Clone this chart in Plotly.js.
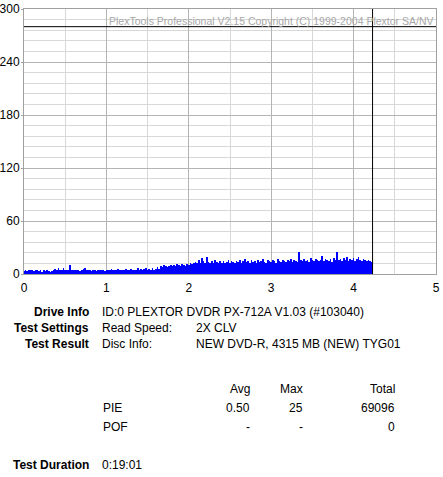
<!DOCTYPE html>
<html>
<head>
<meta charset="utf-8">
<script src="https://cdn.plot.ly/plotly-3.0.1.min.js"></script>
<style>
  html, body { margin: 0; padding: 0; background: #fff; }
  #chart { width: 443px; height: 477px; }
</style>
</head>
<body>
<div id="chart"></div>
<script>
// PIE errors per sample across the disc (position in GB)
const stepGB = 0.02;
const pieValues = [
  3,4,3,5,4,4,3,5,4,3,
  4,2,4,3,4,3,2,3,4,6,
  4,7,5,4,7,5,4,5,10,5,
  4,4,5,4,3,5,6,7,4,5,
  4,3,5,4,3,4,4,5,4,3,
  4,5,4,6,4,5,4,6,5,4,
  5,4,6,5,4,6,5,4,5,7,
  5,6,4,6,7,5,6,5,7,5,
  6,8,6,9,8,10,9,8,9,10,
  9,10,9,11,10,9,11,10,9,11,
  10,13,11,12,14,12,16,13,18,15,
  13,19,14,12,15,13,16,14,12,15,
  13,15,12,14,16,13,15,14,13,15,
  14,16,13,15,17,14,15,13,16,14,
  15,13,16,14,15,17,14,13,16,15,
  14,16,15,13,17,15,14,16,15,14,
  16,15,17,14,16,15,14,25,16,15,
  17,15,16,14,18,16,15,17,16,15,
  16,20,15,17,16,15,17,14,18,16,
  25,16,17,15,18,16,19,15,17,16,
  18,15,17,19,16,15,17,16,15,16,15,14
];
const positionsGB = pieValues.map((_, i) => +(i * stepGB).toFixed(2));

// Marker lines: end of recorded area and the upper limit line
const discEndGB = 4.23;
const limitLine = 280;

// Axis ticks
const xTicks = [0, 1, 2, 3, 4, 5];
const yTicks = [0, 60, 120, 180, 240, 300];

// Report text
const infoLabels = ["Drive Info", "Test Settings", "Test Result"];
const infoCol1 = ["ID:0 PLEXTOR DVDR PX-712A V1.03 (#103040)", "Read Speed:", "Disc Info:"];
const infoCol2 = ["", "2X CLV", "NEW DVD-R, 4315 MB (NEW) TYG01"];
const statHeaders = ["Avg", "Max", "Total"];
const statRows = ["PIE", "POF"];
const statValues = [["0.50", "25", "69096"], ["-", "-", "0"]];
const durationLabel = "Test Duration";
const durationValue = "0:19:01";
const watermark = "PlexTools Professional V2.15 Copyright (C) 1999-2004 Plextor SA/NV";

// page layout in pixels
const W = 443, H = 477;
const M = { l: 24, r: 7, t: 9, b: 203 };
const plotW = W - M.l - M.r, plotH = H - M.t - M.b;
const px = x => (x - M.l) / plotW;
const py = y => (H - M.b - y) / plotH;

const FONT = "Liberation Sans, Arial, sans-serif";
const annotations = [];
function label(text, x, y, anchor, bold, color, size) {
  annotations.push({
    text: bold ? "<b>" + text + "</b>" : text,
    xref: "paper", yref: "paper",
    x: px(x), y: py(y),
    xanchor: anchor, yanchor: "middle",
    showarrow: false, borderpad: 0, borderwidth: 0,
    font: { family: FONT, size: size || 12, color: color || "#000" }
  });
}

label(watermark, 434, 21, "right", false, "#a8a8a8", 10.5);

const infoY = [312, 328, 344];
infoLabels.forEach((t, i) => {
  label(t, 89, infoY[i], "right", true);
  label(infoCol1[i], 102, infoY[i], "left");
  if (infoCol2[i]) label(infoCol2[i], 196, infoY[i], "left");
});

const statX = [250, 303, 395];
statHeaders.forEach((t, j) => label(t, statX[j], 389, "right"));
const rowY = [408, 427];
statRows.forEach((r, i) => {
  label(r, 103, rowY[i], "left");
  statValues[i].forEach((v, j) => label(v, statX[j], rowY[i], "right"));
});
label(durationLabel, 13, 465, "left", true);
label(durationValue, 102, 465, "left");

const trace = {
  type: "bar",
  x: positionsGB,
  y: pieValues,
  width: stepGB,
  marker: { color: "#0000ff", line: { width: 0 } },
  hoverinfo: "x+y"
};

const layout = {
  width: W, height: H,
  margin: M,
  paper_bgcolor: "#fff", plot_bgcolor: "#fff",
  showlegend: false,
  bargap: 0,
  font: { family: FONT, size: 12, color: "#000" },
  xaxis: {
    range: [0, 5], tickvals: xTicks, ticktext: xTicks.map(String),
    showgrid: true, gridcolor: "#b4b4b4", gridwidth: 1,
    minor: { dtick: 0.5, showgrid: true, gridcolor: "#d8d8d8", gridwidth: 1 },
    showline: true, linecolor: "#a0a0a0", linewidth: 1, mirror: true,
    ticks: "outside", ticklen: 3, tickcolor: "#fff",
    zeroline: false, fixedrange: true
  },
  yaxis: {
    range: [0, 300], tickvals: yTicks, ticktext: yTicks.map(String),
    showgrid: true, gridcolor: "#b4b4b4", gridwidth: 1,
    minor: { dtick: 12, showgrid: true, gridcolor: "#d8d8d8", gridwidth: 1 },
    showline: true, linecolor: "#a0a0a0", linewidth: 1, mirror: true,
    ticks: "outside", ticklen: 2, tickcolor: "#a0a0a0",
    ticklabelstandoff: -1,
    tickfont: { family: FONT, size: 12, color: "#000" },
    zeroline: false, fixedrange: true
  },
  shapes: [
    { type: "line", xref: "x", yref: "y", x0: discEndGB, x1: discEndGB, y0: 0, y1: 300,
      line: { color: "#000", width: 1 } },
    { type: "line", xref: "paper", yref: "y", x0: 0, x1: 1, y0: limitLine, y1: limitLine,
      line: { color: "#000", width: 1 } }
  ],
  annotations: annotations
};

Plotly.newPlot("chart", [trace], layout, { displayModeBar: false, staticPlot: true });
</script>
</body>
</html>
